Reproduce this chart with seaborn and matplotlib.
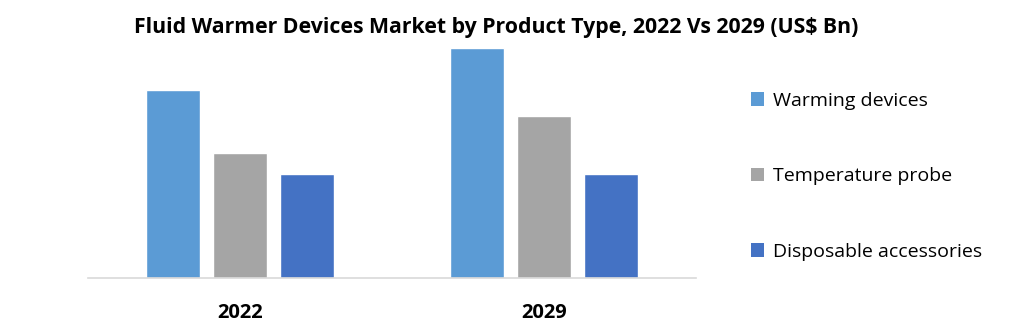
import matplotlib
matplotlib.use("Agg")
import matplotlib.pyplot as plt
import seaborn as sns
import pandas as pd
from matplotlib.patches import Patch

years = ["2022", "2029"]
segments = ["Warming devices", "Temperature probe", "Disposable accessories"]
warming = [1.88, 2.30]
temp_probe = [1.25, 1.62]
disposable = [1.04, 1.04]
colors = ["#5b9bd5", "#a5a5a5", "#4472c4"]

rows = []
for seg, vals in zip(segments, [warming, temp_probe, disposable]):
    for y, v in zip(years, vals):
        rows.append({"Year": y, "Segment": seg, "Value": v})
df = pd.DataFrame(rows)

sns.set_style("white")
fig = plt.figure(figsize=(10.31, 3.22), dpi=100)
ax = fig.add_axes([88/1031, 1-278/322, (696-88)/1031, (278-30)/322])

sns.barplot(data=df, x="Year", y="Value", hue="Segment", hue_order=segments,
            palette=colors, width=0.66, gap=0.2, ax=ax, legend=False,
            saturation=1)
ax.set_xlim(-0.5, 1.5)
ax.set_ylim(0, 2.48)
ax.set_xlabel("")
ax.set_ylabel("")
ax.set_yticks([])
for s in ["top", "right", "left"]:
    ax.spines[s].set_visible(False)
ax.spines["bottom"].set_color("#d9d9d9")
ax.spines["bottom"].set_linewidth(1.2)
ax.tick_params(axis="x", length=0, pad=18, colors="black")
for lbl in ax.get_xticklabels():
    lbl.set_fontweight("bold")
    lbl.set_fontsize(14.5)
    lbl.set_family(["Open Sans", "DejaVu Sans"])

fig.text(0.481, 0.915, "Fluid Warmer Devices Market by Product Type, 2022 Vs 2029 (US$ Bn)",
         ha="center", va="center", fontsize=15.3, fontweight="bold", color="black",
         family=["Open Sans", "DejaVu Sans"])

handles = [Patch(facecolor=c, edgecolor="none") for c in colors]
leg = fig.legend(handles, segments, loc="upper left", bbox_to_anchor=(0.711, 0.77),
                 frameon=False, handlelength=0.7, handleheight=0.7,
                 handletextpad=0.45, labelspacing=2.97,
                 prop={"family": ["Open Sans", "DejaVu Sans"], "size": 14})
for t in leg.get_texts():
    t.set_color("black")

fig.savefig("out.png", dpi=100)
